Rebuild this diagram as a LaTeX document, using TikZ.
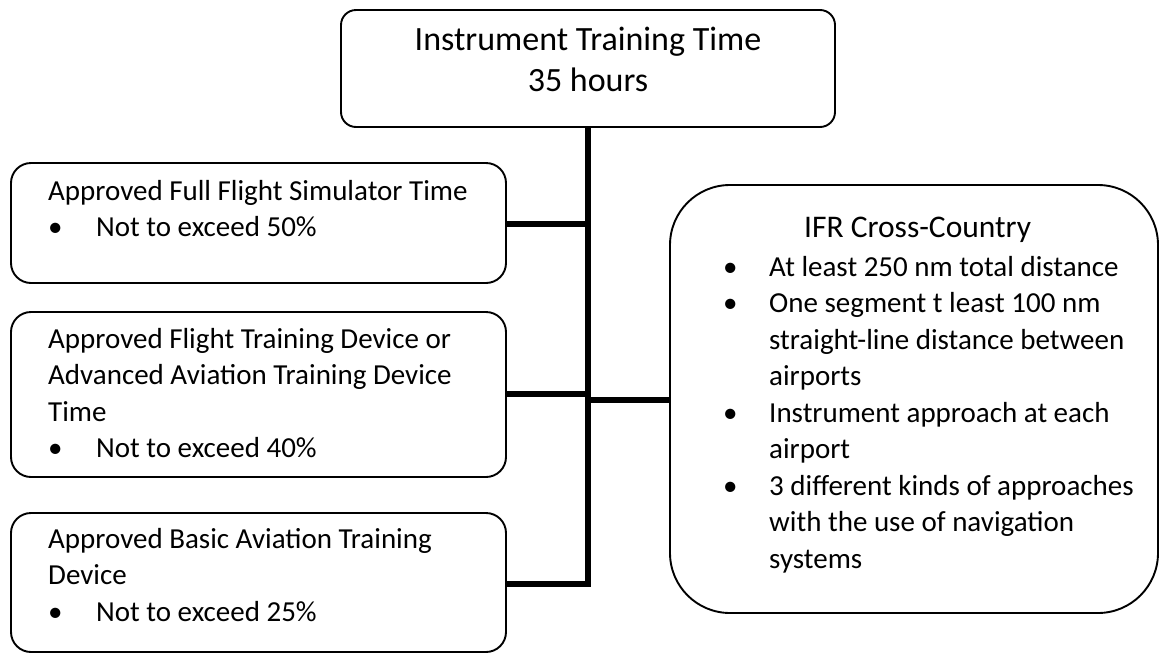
\documentclass[tikz,border=0pt]{standalone}
\usepackage{fontspec}
\setmainfont{Carlito}
\begin{document}
\begin{tikzpicture}[x=1pt,y=-1pt,
  box/.style={draw=black,line width=1.9pt,rounded corners=#1,fill=white,
    anchor=north west,inner sep=0pt,outer sep=0pt},
  box/.default=20pt,
  link/.style={draw=black,line width=6.5pt},
  bodytext/.style={anchor=north west,inner sep=0pt,align=left,
    font=\fontsize{29}{36.5}\selectfont},
  headtext/.style={anchor=north,inner sep=0pt,align=center,
    font=\fontsize{34}{41}\selectfont}]
\newcommand{\bul}[1]{\makebox[#1][l]{\textbullet}}
\useasboundingbox (0,0) rectangle (1160,654);

% boxes
\node[box=15pt,minimum width=494pt,minimum height=117pt] (top) at (341,10) {};
\node[box,minimum width=495pt,minimum height=120pt] (ffs) at (11,163) {};
\node[box,minimum width=495pt,minimum height=165pt] (ftd) at (11,312) {};
\node[box,minimum width=495pt,minimum height=139pt] (batd) at (11,513) {};
\node[box=60pt,minimum width=488pt,minimum height=428pt] (xc) at (670,185) {};

% connectors
\coordinate (j1) at (588,224);
\coordinate (j2) at (588,394);
\coordinate (j3) at (588,400);
\draw[link,line join=miter] (ffs.east |- j1) -- (j1);
\draw[link] (ftd.east |- j2) -- (j2);
\draw[link] (j3) -- (xc.west |- j3);
\draw[link,line join=miter] (batd.east |- 0,584) -| (top.south);

% texts
\node[headtext] (toptext) at (588,21.3)
  {\strut Instrument Training Time\\35 hours};
\node[bodytext] (ffstext) at (48,174.45)
  {\strut Approved Full Flight Simulator Time\\
   \bul{48pt}Not to exceed 50\%};
\node[bodytext] (ftdtext) at (48,322.45)
  {\strut Approved Flight Training Device or\\
   Advanced Aviation Training Device\\
   Time\\
   \bul{48pt}Not to exceed 40\%};
\node[bodytext] (batdtext) at (48,522.45)
  {\strut Approved Basic Aviation Training\\
   Device\\
   \bul{48pt}Not to exceed 25\%};
\node[bodytext,anchor=base west,font=\fontsize{31.5}{36.5}\selectfont]
  (xctitle) at (804,237) {IFR Cross-Country};
\node[bodytext] (xctext) at (723,250.45)
  {\strut\bul{46pt}At least 250 nm total distance\\
   \bul{46pt}One segment t least 100 nm\\
   \hspace*{46pt}straight-line distance between\\
   \hspace*{46pt}airports\\
   \bul{46pt}Instrument approach at each\\
   \hspace*{46pt}airport\\
   \bul{46pt}3 different kinds of approaches\\
   \hspace*{46pt}with the use of navigation\\
   \hspace*{46pt}systems};
\end{tikzpicture}
\end{document}
